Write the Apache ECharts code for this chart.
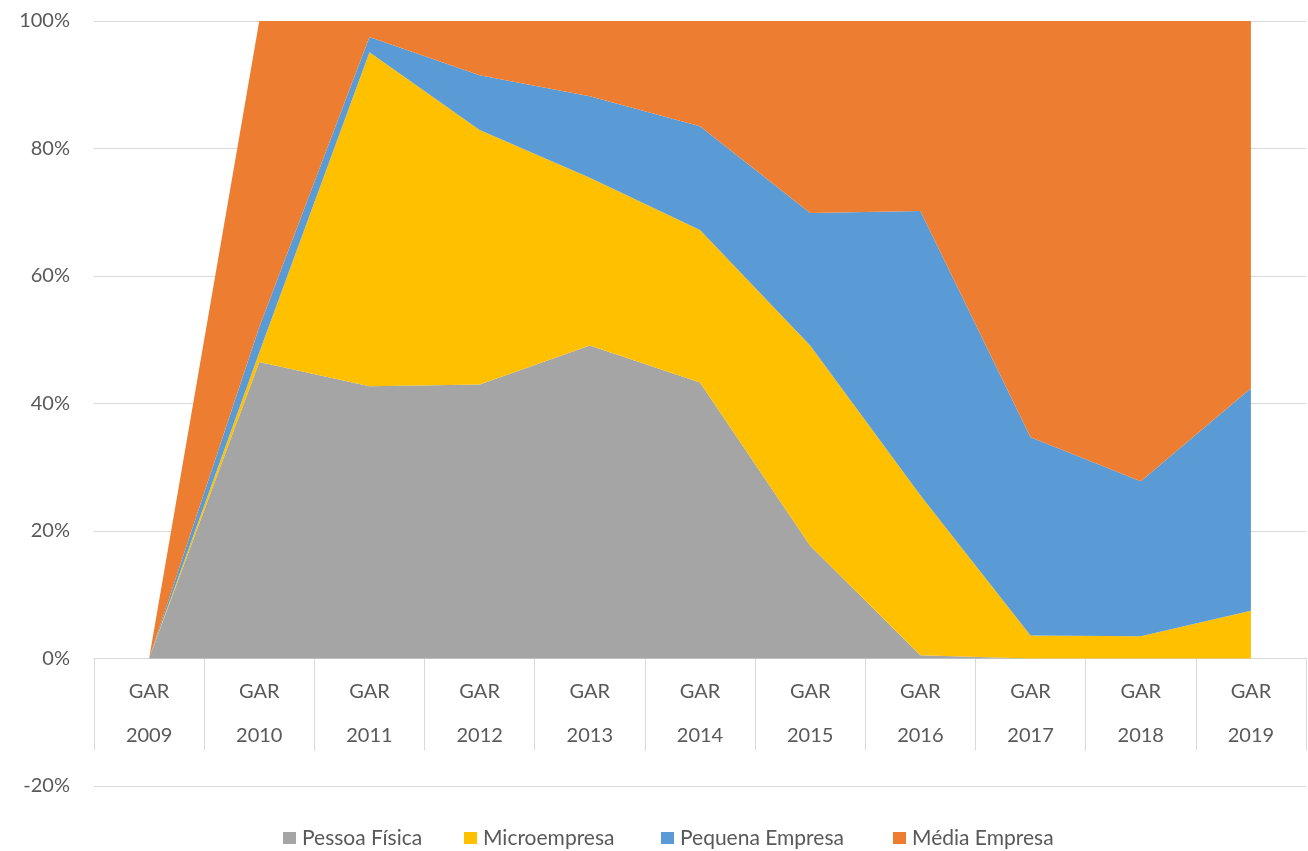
<!DOCTYPE html>
<html>
<head>
<meta charset="utf-8">
<script src="https://cdn.jsdelivr.net/npm/echarts@6/dist/echarts.min.js"></script>
<style>html,body{margin:0;padding:0;background:#fff}#c{width:1308px;height:851px}</style>
</head>
<body>
<div id="c"></div>
<script>
const categories = ['GAR\n2009','GAR\n2010','GAR\n2011','GAR\n2012','GAR\n2013','GAR\n2014','GAR\n2015','GAR\n2016','GAR\n2017','GAR\n2018','GAR\n2019'];
const seriesNames = ['Pessoa Física','Microempresa','Pequena Empresa','Média Empresa'];
const pessoaFisica   = [0, 46.5, 42.7, 43.0, 49.1, 43.3, 17.7, 0.5, 0, 0, 0];
const microempresa   = [0, 1.5, 52.4, 39.9, 26.3, 23.9, 31.4, 25.1, 3.6, 3.5, 7.5];
const pequenaEmpresa = [0, 4.0, 2.4, 8.6, 12.8, 16.3, 20.8, 44.6, 31.1, 24.3, 34.9];
const mediaEmpresa   = [0, 48.0, 2.5, 8.5, 11.8, 16.5, 30.1, 29.8, 65.3, 72.2, 57.6];
const yTicks = [-20, 0, 20, 40, 60, 80, 100];
const colors = ['#A5A5A5','#FFC000','#5B9BD5','#ED7D31'];

const font = 'Lato, "Open Sans", sans-serif';
const chart = echarts.init(document.getElementById('c'));
const dataSets = [pessoaFisica, microempresa, pequenaEmpresa, mediaEmpresa];
const legendLefts = [283, 464, 661, 893];
chart.setOption({
  animation: false,
  color: colors,
  grid: {left: 94, right: 2, top: 21, bottom: 65, containLabel: false, outerBoundsMode: 'none'},
  legend: seriesNames.map((n, i) => ({
    top: 826, left: legendLefts[i],
    itemWidth: 13, itemHeight: 12, itemGap: 0,
    icon: 'rect',
    textStyle: {fontFamily: font, fontSize: 21, color: '#595959', lineHeight: 24, padding: [0, 0, 0, 1]},
    padding: 0,
    data: [n]
  })),
  xAxis: {
    type: 'category',
    data: categories,
    boundaryGap: true,
    axisLine: {onZero: true, lineStyle: {color: '#D9D9D9', width: 1}},
    axisTick: {show: true, interval: 0, length: 92, lineStyle: {color: '#D9D9D9'}},
    axisLabel: {interval: 0, margin: -116, fontFamily: font, fontSize: 20, color: '#595959', lineHeight: 44},
    splitLine: {show: false}
  },
  yAxis: {
    type: 'value',
    min: yTicks[0], max: yTicks[yTicks.length-1], interval: 20,
    axisLine: {show: false},
    axisTick: {show: false},
    axisLabel: {formatter: '{value}%', margin: 24, fontFamily: font, fontSize: 20, color: '#595959'},
    splitLine: {lineStyle: {color: '#D9D9D9', width: 1}}
  },
  series: seriesNames.map((n, i) => ({
    name: n,
    type: 'line',
    stack: 'total',
    data: dataSets[i],
    symbol: 'none',
    lineStyle: {width: 0},
    areaStyle: {opacity: 1, color: colors[i]},
    z: 2
  }))
});
</script>
</body>
</html>
